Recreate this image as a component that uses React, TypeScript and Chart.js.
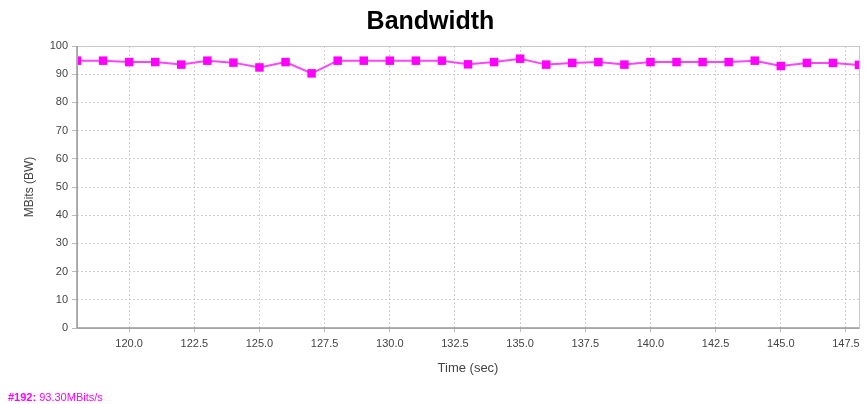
import React, { useEffect, useRef } from "react";
import { Chart, registerables } from "chart.js";

Chart.register(...registerables);

const times = [118, 119, 120, 121, 122, 123, 124, 125, 126, 127, 128, 129, 130, 131, 132, 133, 134, 135, 136, 137, 138, 139, 140, 141, 142, 143, 144, 145, 146, 147, 148];
const bandwidth = [94.8, 94.8, 94.3, 94.3, 93.4, 94.8, 94.1, 92.4, 94.3, 90.3, 94.8, 94.8, 94.8, 94.8, 94.8, 93.5, 94.3, 95.5, 93.4, 94.0, 94.3, 93.4, 94.3, 94.3, 94.3, 94.3, 94.8, 92.9, 94.0, 94.0, 93.3];
const xTickValues = [120, 122.5, 125, 127.5, 130, 132.5, 135, 137.5, 140, 142.5, 145, 147.5];
const yTickValues = [0, 10, 20, 30, 40, 50, 60, 70, 80, 90, 100];

const FONT = "'Liberation Sans', Arial, sans-serif";

const borderPlugin = {
  id: "plotBorder",
  afterDraw(chart: any) {
    const { ctx, chartArea } = chart;
    ctx.save();
    ctx.strokeStyle = "#c8c8c8";
    ctx.lineWidth = 1;
    ctx.strokeRect(chartArea.left + 0.5, chartArea.top + 0.5, chartArea.right - chartArea.left, chartArea.bottom - chartArea.top);
    ctx.strokeStyle = "#999999";
    ctx.lineWidth = 1.5;
    ctx.beginPath();
    ctx.moveTo(chartArea.left, chartArea.bottom);
    ctx.lineTo(chartArea.right, chartArea.bottom);
    ctx.moveTo(chartArea.left, chartArea.top);
    ctx.lineTo(chartArea.left, chartArea.bottom);
    ctx.stroke();
    ctx.restore();
  },
};

export default function App() {
  const canvasRef = useRef<HTMLCanvasElement | null>(null);

  useEffect(() => {
    document.body.style.margin = "0";
    const canvas = canvasRef.current;
    if (!canvas) return;
    const chart = new Chart(canvas, {
      type: "line",
      data: {
        datasets: [
          {
            label: "Bandwidth",
            data: times.map((t, i) => ({ x: t, y: bandwidth[i] })),
            borderColor: "#ff44ff",
            backgroundColor: "#ff00ff",
            pointBackgroundColor: "#ff00ff",
            pointBorderColor: "#ff00ff",
            borderWidth: 2,
            pointStyle: "rect",
            pointRadius: 6,
            pointBorderWidth: 0,
            tension: 0,
          },
        ],
      },
      options: {
        animation: false,
        responsive: false,
        maintainAspectRatio: false,
        layout: { padding: { left: 0, right: 4, top: 0, bottom: 22 } },
        plugins: {
          legend: { display: false },
          tooltip: { enabled: false },
          title: {
            display: true,
            text: "Bandwidth",
            color: "#000",
            font: { family: FONT, size: 25, weight: "bold" },
            padding: { top: 7, bottom: 9 },
          },
        },
        scales: {
          x: {
            type: "linear",
            min: 118,
            max: 148,
            afterBuildTicks: (scale: any) => {
              scale.ticks = xTickValues.map((v) => ({ value: v }));
            },
            afterFit: (scale: any) => {
              scale.height = 54;
            },
            ticks: {
              color: "#444",
              font: { family: FONT, size: 11 },
              padding: 5,
              maxRotation: 0,
              autoSkip: false,
              callback: (v: any) => Number(v).toFixed(1),
            },
            grid: {
              color: "#d0d0d0",
              borderDash: [2, 2],
              tickLength: 4,
              tickColor: "#bbbbbb",
              tickBorderDash: [],
            },
            border: { display: false, dash: [2, 2] },
            title: {
              display: true,
              text: "Time (sec)",
              color: "#444",
              font: { family: FONT, size: 13 },
              padding: { top: 4, bottom: 6 },
            },
          },
          y: {
            type: "linear",
            min: 0,
            max: 100,
            afterBuildTicks: (scale: any) => {
              scale.ticks = yTickValues.map((v) => ({ value: v }));
            },
            afterFit: (scale: any) => {
              scale.width = 77;
            },
            ticks: {
              color: "#444",
              font: { family: FONT, size: 11 },
              padding: 4,
              autoSkip: false,
            },
            grid: {
              color: "#d0d0d0",
              tickLength: 5,
              tickColor: "#bbbbbb",
              tickBorderDash: [],
            },
            border: { display: false, dash: [2, 2] },
            title: {
              display: true,
              text: "MBits (BW)",
              color: "#444",
              font: { family: FONT, size: 12 },
              padding: { top: 22, bottom: 0 },
            },
          },
        },
      } as any,
      plugins: [borderPlugin],
    });
    return () => chart.destroy();
  }, []);

  return (
    <div style={{ position: "relative", width: 865, height: 404, background: "#fff" }}>
      <canvas ref={canvasRef} width={865} height={404} style={{ display: "block" }} />
      <div
        style={{
          position: "absolute",
          left: 8,
          top: 391,
          fontFamily: FONT,
          fontSize: 11,
          color: "#ff00ff",
          whiteSpace: "nowrap",
        }}
      >
        <b>#192:</b> 93.30MBits/s
      </div>
    </div>
  );
}
